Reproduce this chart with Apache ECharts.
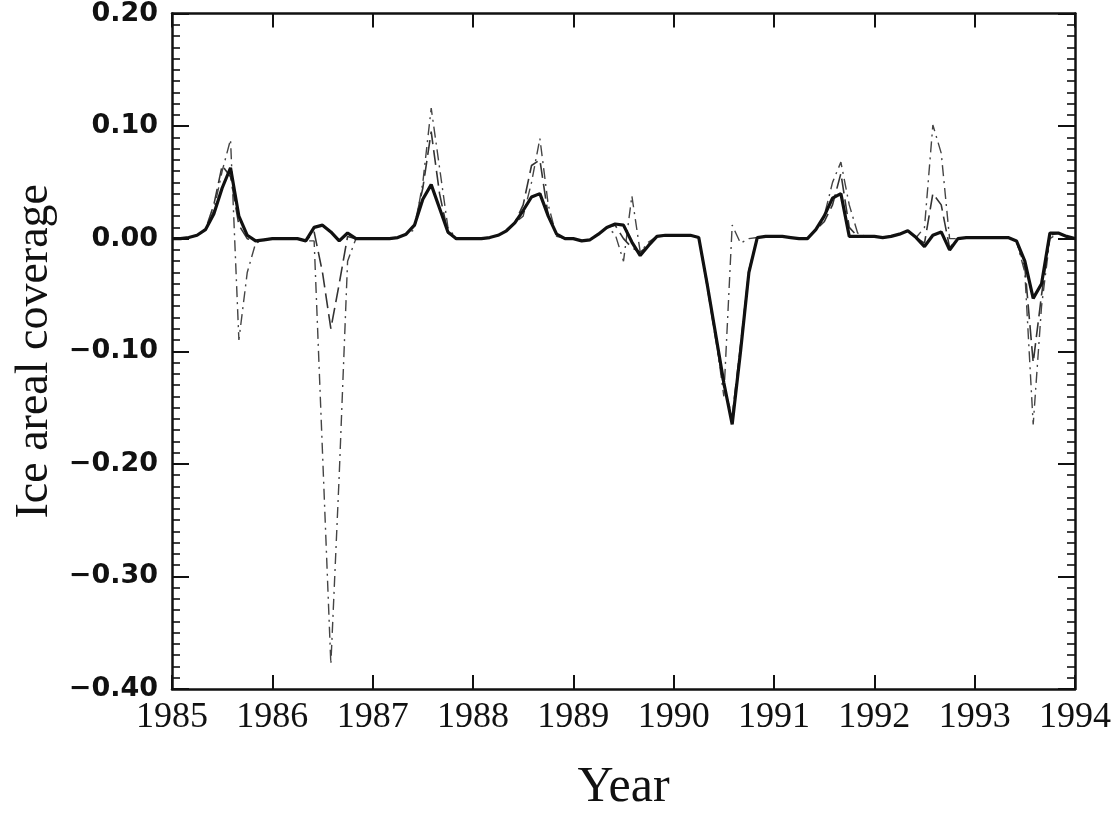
<!DOCTYPE html>
<html>
<head>
<meta charset="utf-8">
<script src="https://cdn.jsdelivr.net/npm/echarts@6/dist/echarts.min.js"></script>
<style>
  html, body { margin: 0; padding: 0; background: #fff; }
  #chart { width: 1120px; height: 820px; }
</style>
</head>
<body>
<div id="chart"></div>
<script>
// monthly values, Jan 1985 .. Jan 1994 (one row per year)
const startYear = 1985;
const yearTicks = [1985, 1986, 1987, 1988, 1989, 1990, 1991, 1992, 1993, 1994];

const solid = [
  0, 0, 0.001, 0.003, 0.008, 0.022, 0.045, 0.063, 0.02, 0.003, -0.002, -0.001,
  0, 0, 0, 0, -0.002, 0.01, 0.012, 0.006, -0.002, 0.005, 0, 0,
  0, 0, 0, 0.001, 0.004, 0.012, 0.035, 0.048, 0.027, 0.006, 0, 0,
  0, 0, 0.001, 0.003, 0.007, 0.014, 0.025, 0.037, 0.04, 0.02, 0.004, 0,
  0, -0.002, -0.001, 0.004, 0.01, 0.013, 0.012, -0.003, -0.015, -0.006, 0.002, 0.003,
  0.003, 0.003, 0.003, 0.001, -0.04, -0.084, -0.128, -0.165, -0.1, -0.03, 0.001, 0.002,
  0.002, 0.002, 0.001, 0, 0, 0.008, 0.02, 0.036, 0.04, 0.002, 0.002, 0.002,
  0.002, 0.001, 0.002, 0.004, 0.007, 0.001, -0.007, 0.003, 0.006, -0.01, 0, 0.001,
  0.001, 0.001, 0.001, 0.001, 0.001, -0.002, -0.02, -0.053, -0.04, 0.005, 0.005, 0.002,
  0
];

const dashed = [
  0, 0, 0.001, 0.003, 0.008, 0.03, 0.065, 0.055, 0.012, 0, -0.002, -0.001,
  0, 0, 0, 0, -0.002, 0.006, -0.03, -0.08, -0.04, 0.002, 0, 0,
  0, 0, 0, 0.001, 0.004, 0.012, 0.045, 0.095, 0.04, 0.005, 0, 0,
  0, 0, 0.001, 0.003, 0.007, 0.014, 0.03, 0.065, 0.07, 0.02, 0.004, 0,
  0, -0.002, -0.001, 0.004, 0.01, 0.012, 0, -0.008, -0.012, -0.006, 0.002, 0.003,
  0.003, 0.003, 0.003, 0.001, -0.042, -0.088, -0.132, -0.158, -0.095, -0.028, 0.001, 0.002,
  0.002, 0.002, 0.001, 0, 0, 0.008, 0.015, 0.03, 0.058, 0.01, 0.002, 0.002,
  0.002, 0.001, 0.002, 0.004, 0.007, 0.001, -0.004, 0.04, 0.03, -0.008, 0, 0.001,
  0.001, 0.001, 0.001, 0.001, 0.001, -0.002, -0.025, -0.11, -0.05, 0.003, 0.005, 0.002,
  0
];

const dashDot = [
  0, 0, 0.001, 0.003, 0.008, 0.025, 0.06, 0.088, -0.09, -0.03, -0.004, -0.001,
  0, 0, 0, 0, -0.002, -0.002, -0.19, -0.378, -0.21, -0.02, 0, 0,
  0, 0, 0, 0.001, 0.004, 0.008, 0.05, 0.116, 0.063, 0.01, 0, 0,
  0, 0, 0.001, 0.003, 0.007, 0.014, 0.02, 0.05, 0.089, 0.03, 0.002, 0,
  0, -0.002, -0.001, 0.004, 0.01, 0.004, -0.02, 0.038, -0.012, -0.003, 0.002, 0.003,
  0.003, 0.003, 0.003, 0.001, -0.038, -0.085, -0.14, 0.012, -0.004, 0, 0.001, 0.002,
  0.002, 0.002, 0.001, 0, 0, 0.008, 0.02, 0.05, 0.068, 0.03, 0.005, 0.002,
  0.002, 0.001, 0.002, 0.004, 0.007, 0.001, 0.01, 0.101, 0.076, 0, 0, 0.001,
  0.001, 0.001, 0.001, 0.001, 0.001, -0.002, -0.03, -0.165, -0.06, 0, 0.005, 0.002,
  0
];

const toPairs = (values) => values.map((v, i) => [startYear + i / 12, v]);
const minus = (v) => (v < 0 ? "\u2212" + Math.abs(v).toFixed(2) : v.toFixed(2));

const chart = echarts.init(document.getElementById("chart"), null, { renderer: "canvas" });

const axisLine = { show: true, onZero: false, lineStyle: { color: "#111", width: 2.5 } };
const yCommon = {
  type: "value",
  min: -0.4,
  max: 0.2,
  interval: 0.1,
  axisLine,
  axisTick: { show: true, inside: true, length: 17, lineStyle: { color: "#111", width: 2 } },
  minorTick: { show: true, splitNumber: 10, length: 8, lineStyle: { color: "#111", width: 1.6 } },
  splitLine: { show: false },
};
const xCommon = {
  type: "value",
  min: 1985,
  max: 1994,
  interval: 1,
  axisLine,
  axisTick: { show: true, inside: true, length: 14, lineStyle: { color: "#111", width: 2 } },
  splitLine: { show: false },
};

chart.setOption({
  animation: false,
  backgroundColor: "#fff",
  grid: { left: 172, right: 45, top: 13, bottom: 131 },
  xAxis: [
    {
      ...xCommon,
      position: "bottom",
      name: "Year",
      nameLocation: "middle",
      nameGap: 74,
      nameTextStyle: { fontFamily: "Liberation Serif", fontSize: 50, color: "#111" },
      axisLabel: {
        margin: 11,
        fontFamily: "Liberation Serif",
        fontSize: 36,
        color: "#111",
        formatter: (v) => (yearTicks.includes(Math.round(v)) ? String(Math.round(v)) : ""),
      },
    },
    { ...xCommon, position: "top", axisLabel: { show: false } },
  ],
  yAxis: [
    {
      ...yCommon,
      position: "left",
      name: "Ice areal coverage",
      nameLocation: "middle",
      nameRotate: 90,
      nameGap: 112,
      nameTextStyle: { fontFamily: "Liberation Serif", fontSize: 46, color: "#111" },
      axisLabel: {
        margin: 14,
        fontFamily: "DejaVu Sans",
        fontWeight: "bold",
        fontSize: 27,
        color: "#111",
        formatter: minus,
      },
    },
    { ...yCommon, position: "right", axisLabel: { show: false } },
  ],
  series: [
    {
      name: "dash-dot",
      type: "line",
      data: toPairs(dashDot),
      showSymbol: false,
      lineStyle: { color: "#444", width: 1.4, type: [11, 5, 2, 5] },
      z: 2,
    },
    {
      name: "dashed",
      type: "line",
      data: toPairs(dashed),
      showSymbol: false,
      lineStyle: { color: "#333", width: 1.6, type: [15, 6] },
      z: 3,
    },
    {
      name: "solid",
      type: "line",
      data: toPairs(solid),
      showSymbol: false,
      lineStyle: { color: "#111", width: 3.2 },
      z: 4,
    },
  ],
});
</script>
</body>
</html>
